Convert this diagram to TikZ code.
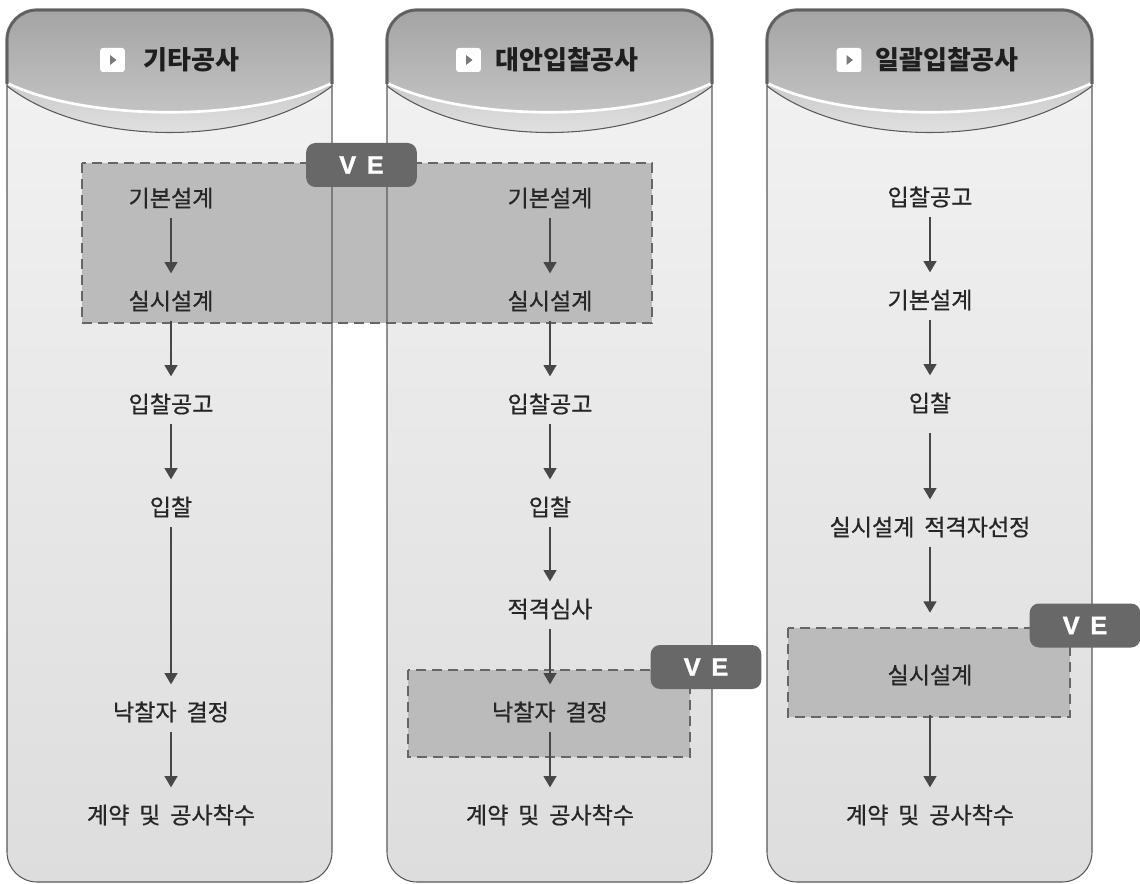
\documentclass[tikz,border=0pt]{standalone}
\usepackage{fontspec}
\newfontfamily\kr{Noto Sans CJK KR}[FakeBold=0.6, WordSpace=1.9]
\newfontfamily\krh{Noto Sans CJK KR}
\newfontfamily\vef{Liberation Sans}[FakeBold=1.5]
\usetikzlibrary{arrows.meta}
\definecolor{bodytop}{HTML}{F3F3F3}
\definecolor{bodybot}{HTML}{DDDDDD}
\definecolor{hdrtop}{HTML}{A4A4A4}
\definecolor{hdrbot}{HTML}{C6C6C6}
\definecolor{bandtop}{HTML}{C9C9C9}
\definecolor{bandbot}{HTML}{E8E8E8}
\definecolor{hdrline}{HTML}{6C6C6C}
\definecolor{outline}{HTML}{5A5A5A}
\definecolor{txt}{HTML}{262626}
\definecolor{hdrtxt}{HTML}{1E1E1E}
\definecolor{arrc}{HTML}{474747}
\definecolor{vefill}{HTML}{BBBBBB}
\definecolor{dashc}{HTML}{666666}
\definecolor{velab}{HTML}{686868}
\definecolor{tric}{HTML}{7A7A7A}
\begin{document}
\begin{tikzpicture}[x=0.75pt,y=-0.75pt,
  lbl/.style={font=\kr\fontsize{17.3}{19}\selectfont, text=txt, inner sep=0pt, text height=14pt, text depth=1pt},
  hdr/.style={font=\krh\bfseries\fontsize{19.5}{21}\selectfont, text=hdrtxt, inner sep=0pt, anchor=west},
  arr/.style={draw=arrc, line width=1.7pt, -{Triangle[length=8.5pt,width=9.5pt]}, shorten <=7pt, shorten >=13pt},
  vebox/.style={fill=vefill, draw=dashc, line width=1.5pt, dash pattern=on 7.5pt off 4.5pt},
  velabel/.style={fill=velab, rounded corners=7pt, font=\vef\bfseries\fontsize{19}{21}\selectfont, text=white, inner sep=0pt, minimum width=83pt, minimum height=33pt},
  iconbox/.style={fill=white, rounded corners=2pt, minimum width=18.5pt, minimum height=18pt, inner sep=0pt},
  tri/.style={fill=tric}
]
\useasboundingbox (0,0) rectangle (1140,884);
\fill[white] (0,0) rectangle (1140,884);

% columns
\foreach \L in {7,387,767} {
  \pgfmathsetmacro\R{\L+325}
  \pgfmathsetmacro\La{\L+80}
  \pgfmathsetmacro\Ra{\R-80}
  \pgfmathsetmacro\Rb{\R-30}
  \shade[top color=bodytop, bottom color=bodybot, rounded corners=22.5pt] (\L,10) rectangle (\R,882);
  % lower band
  \shade[top color=bandtop, bottom color=bandbot] (\L,83) .. controls (\La,122) and (\Ra,122) .. (\R,83) -- (\R,86) .. controls (\Ra,148) and (\La,148) .. (\L,86) -- cycle;
  \draw[outline, line width=0.8pt] (\R,86) .. controls (\Ra,148) and (\La,148) .. (\L,86);
  % header
  \shade[top color=hdrtop, bottom color=hdrbot] (\L,83) -- (\L,40) arc[start angle=180, end angle=270, radius=30] -- (\Rb,10) arc[start angle=270, end angle=360, radius=30] -- (\R,83) .. controls (\Ra,122) and (\La,122) .. (\L,83) -- cycle;
  \draw[white, line width=2pt] (\R,83) .. controls (\Ra,122) and (\La,122) .. (\L,83);
  \draw[hdrline, line width=2.4pt] (\L,84) -- (\L,40) arc[start angle=180, end angle=270, radius=30] -- (\Rb,10) arc[start angle=270, end angle=360, radius=30] -- (\R,84);
}

% VE dashed boxes
\filldraw[vebox] (82,163) rectangle (652,323);
\filldraw[vebox] (408,670) rectangle (690,757);
\filldraw[vebox] (788,628) rectangle (1070,717);

% column outlines on top
\foreach \L in {7,387,767} {
  \pgfmathsetmacro\R{\L+325}
  \draw[outline, line width=0.8pt, rounded corners=22.5pt] (\L,10) rectangle (\R,882);
}

% headers
\node[iconbox] (i1) at (112.5,60) {};
\fill[tri] (i1) ++(-2.5,-5) -- ++(0,10) -- ++(6.5,-5) -- cycle;
\node[hdr] (h1) at (143,60) {기타공사};
\node[iconbox] (i2) at (468.5,60) {};
\fill[tri] (i2) ++(-2.5,-5) -- ++(0,10) -- ++(6.5,-5) -- cycle;
\node[hdr] (h2) at (495,60) {대안입찰공사};
\node[iconbox] (i3) at (849,60) {};
\fill[tri] (i3) ++(-2.5,-5) -- ++(0,10) -- ++(6.5,-5) -- cycle;
\node[hdr] (h3) at (875,60) {일괄입찰공사};

% VE labels
\node[velabel] (ve1) at (361.5,165) {V\hspace{8pt}E};
\node[velabel] (ve2) at (706,667) {V\hspace{8pt}E};
\node[velabel] (ve3) at (1085,625.5) {V\hspace{8pt}E};

% column 1
\node[lbl] (a1) at (171,198) {기본설계};
\node[lbl] (a2) at (171,301) {실시설계};
\node[lbl] (a3) at (171,404) {입찰공고};
\node[lbl] (a4) at (171,507) {입찰};
\node[lbl] (a5) at (171,712) {낙찰자 결정};
\node[lbl] (a6) at (171,815) {계약 및 공사착수};
\draw[arr] (a1) -- (a2);
\draw[arr] (a2) -- (a3);
\draw[arr] (a3) -- (a4);
\draw[arr] (a4) -- (a5);
\draw[arr] (a5) -- (a6);

% column 2
\node[lbl] (b1) at (550,198) {기본설계};
\node[lbl] (b2) at (550,301) {실시설계};
\node[lbl] (b3) at (550,404) {입찰공고};
\node[lbl] (b4) at (550,507) {입찰};
\node[lbl] (b5) at (550,609) {적격심사};
\node[lbl] (b6) at (550,712) {낙찰자 결정};
\node[lbl] (b7) at (550,815) {계약 및 공사착수};
\draw[arr] (b1) -- (b2);
\draw[arr] (b2) -- (b3);
\draw[arr] (b3) -- (b4);
\draw[arr] (b4) -- (b5);
\draw[arr] (b5) -- (b6);
\draw[arr] (b6) -- (b7);

% column 3
\node[lbl] (c1) at (930,197) {입찰공고};
\node[lbl] (c2) at (930,300) {기본설계};
\node[lbl] (c3) at (930,403) {입찰};
\node[lbl] (c4) at (930,527) {실시설계 적격자선정};
\node[lbl] (c5) at (930,675) {실시설계};
\node[lbl] (c6) at (930,815) {계약 및 공사착수};
\draw[arr] (c1) -- (c2);
\draw[arr] (c2) -- (c3);
\draw[arr, shorten <=15pt] (c3) -- (c4);
\draw[arr, shorten >=39pt] (c4) -- (c5);
\draw[arr, shorten <=22pt] (c5) -- (c6);
\end{tikzpicture}
\end{document}
